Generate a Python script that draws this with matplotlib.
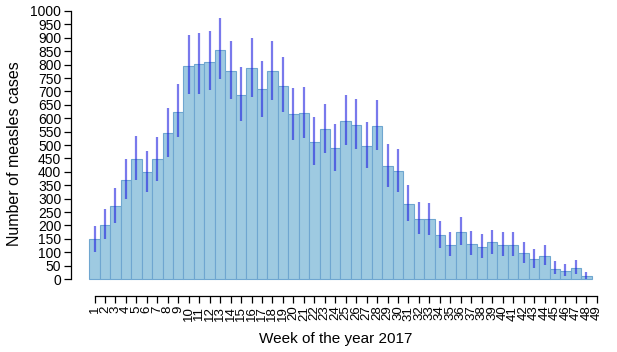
"""Weekly measles cases in 2017 with uncertainty ranges."""

import matplotlib.pyplot as plt
import numpy as np

plt.rcParams["font.family"] = ["Liberation Sans", "DejaVu Sans"]

weeks = np.arange(1, 49)
cases = [148, 201, 272, 370, 449, 399, 447, 544, 624, 795,
         801, 810, 854, 776, 685, 786, 708, 777, 722, 614,
         618, 511, 559, 489, 590, 575, 495, 570, 422, 402,
         281, 226, 223, 163, 128, 175, 132, 119, 137, 128,
         128, 97, 75, 86, 38, 30, 42, 11]
lower = [102, 149, 210, 298, 369, 325, 366, 456, 531, 689,
         689, 705, 745, 672, 590, 680, 606, 668, 624, 519,
         525, 425, 469, 403, 499, 485, 413, 480, 344, 326,
         218, 170, 164, 117, 86, 126, 90, 78, 93, 87,
         87, 61, 42, 51, 18, 11, 19, 1]
upper = [198, 261, 340, 448, 535, 479, 531, 637, 726, 910,
         918, 924, 975, 888, 791, 898, 815, 888, 827, 711,
         718, 604, 653, 578, 688, 672, 586, 668, 504, 484,
         350, 288, 284, 218, 175, 230, 179, 167, 185, 175,
         175, 138, 111, 126, 66, 55, 71, 26]
tick_weeks = np.arange(1, 50)

fig = plt.figure(figsize=(6.17, 3.52), dpi=100)
ax = fig.add_axes([71 / 617, 1 - 296 / 352, 529 / 617, 285 / 352])

ax.bar(weeks, cases, width=1.0, color="#9ecae1", edgecolor="#6fa6d0", linewidth=0.8)
ax.vlines(weeks, lower, upper, colors="#2020e0", alpha=0.6, linewidth=1.6)

ax.set_xlim(-1.25, 49.3)
ax.set_ylim(-63, 1000)
ax.set_yticks(np.arange(0, 1001, 50))
ax.set_xticks(tick_weeks)
ax.set_xticklabels([str(w) for w in tick_weeks], rotation=90, fontsize=9.5)
ax.tick_params(axis="y", labelsize=10, length=5, width=0.9, pad=2)
ax.tick_params(axis="x", length=5, width=0.9, pad=2)

for side in ["top", "right"]:
    ax.spines[side].set_visible(False)
ax.spines["left"].set_bounds(0, 1000)
ax.spines["bottom"].set_bounds(1, 49)
ax.spines["left"].set_linewidth(0.9)
ax.spines["bottom"].set_linewidth(0.9)

ax.set_xlabel("Week of the year 2017", fontsize=11, labelpad=8)
ax.set_ylabel("Number of measles cases", fontsize=11.5, labelpad=6)

fig.savefig("out.png", dpi=100)
